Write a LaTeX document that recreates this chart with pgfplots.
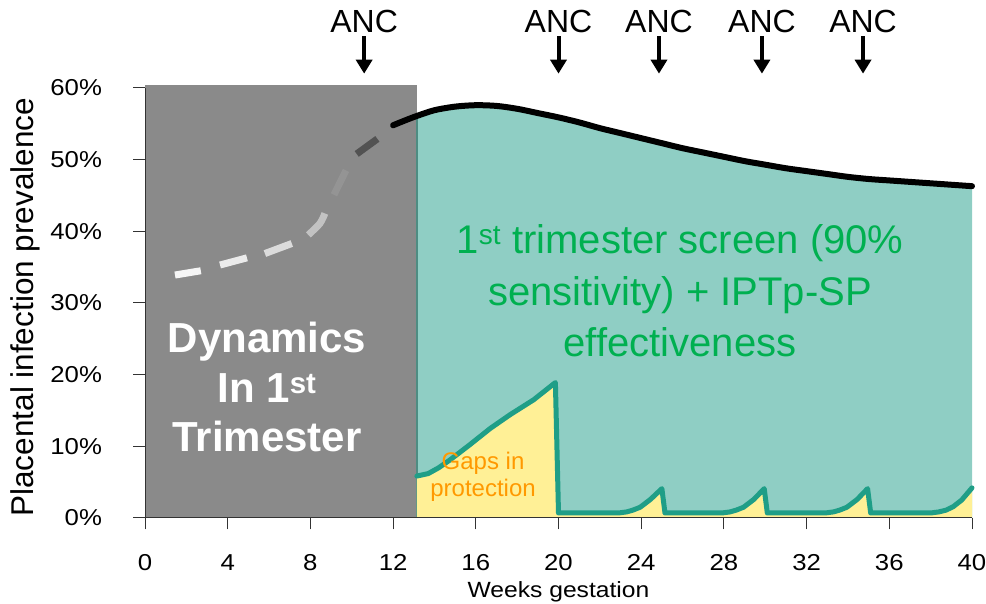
\documentclass[border=0pt]{standalone}
\usepackage{fontspec}
\setmainfont{Liberation Sans}
\usepackage{pgfplots}
\usepackage{pgfplotstable}
\pgfplotsset{compat=1.18}
\usetikzlibrary{arrows.meta}

\definecolor{greybox}{HTML}{8A8A8A}
\definecolor{tealfill}{HTML}{8FCEC4}
\definecolor{tealedge}{HTML}{4E8C82}
\definecolor{tealline}{HTML}{1F9E87}
\definecolor{gapyellow}{HTML}{FFF096}
\definecolor{textgreen}{HTML}{00B050}
\definecolor{gaporange}{HTML}{FF9900}

% prevalence without intervention (solid part, from week 12)
\pgfplotstableread{
wk   prev
12.0 54.8
12.6 55.5
13.15 56.1
14.0 56.9
15.0 57.4
16.0 57.6
17.0 57.5
18.0 57.1
19.0 56.5
20.0 55.9
21.0 55.2
22.0 54.4
23.0 53.7
24.0 53.0
25.0 52.3
26.0 51.6
27.0 51.0
28.0 50.4
29.0 49.8
30.0 49.3
31.0 48.8
32.0 48.4
33.0 48.0
34.0 47.6
35.0 47.3
36.0 47.1
37.0 46.9
38.0 46.7
39.0 46.5
40.0 46.3
}\untreated

% prevalence with screening + IPTp-SP
\pgfplotstableread{
wk    prev
13.15 5.85
13.7  6.2
14.2  7.0
14.75 8.1
15.7  10.2
16.7  12.5
17.65 14.4
18.8  16.5
19.85 18.9
20.0  0.7
22.9  0.7
23.3  0.85
23.6  1.1
23.95 1.5
24.45 2.6
25.0  4.1
25.15 0.7
27.9  0.7
28.3  0.85
28.6  1.1
28.95 1.5
29.45 2.6
29.95 4.1
30.1  0.7
32.9  0.7
33.3  0.85
33.6  1.1
33.95 1.5
34.45 2.6
34.95 4.1
35.1  0.7
38.0  0.7
38.4  0.85
38.75 1.1
39.1  1.6
39.5  2.5
40.0  4.2
}\treated

\begin{document}
\begin{tikzpicture}
\useasboundingbox (0,0) rectangle (986pt,604pt);
\begin{axis}[
  at={(145pt,86pt)}, anchor=south west,
  scale only axis, width=827pt, height=430pt,
  xmin=0, xmax=40, ymin=0, ymax=60,
  axis x line*=bottom, axis y line*=left,
  axis line style={draw=black!80, line width=1pt},
  tick style={draw=black!80, line width=1pt},
  tick align=outside, major tick length=11.5pt,
  xtick={0,4,...,40}, ytick={0,10,...,60},
  yticklabel={\pgfmathprintnumber{\tick}\%},
  /pgf/number format/assume math mode=true,
  ticklabel style={font=\fontsize{23}{27}\selectfont, xscale=1.12},
  xticklabel style={anchor=base, inner sep=0pt, yshift=-41pt},
  yticklabel style={anchor=east, inner sep=0pt, xshift=-28pt},
  xlabel={Weeks gestation},
  xlabel style={font=\fontsize{22}{26}\selectfont, xscale=1.12, at={(axis description cs:0.5,-0.184)}, anchor=base},
  ylabel={Placental infection prevalence},
  ylabel style={font=\fontsize{31.5}{36}\selectfont, at={(axis description cs:-0.1354,0.49)}, anchor=base},
  axis on top,
  clip=false,
]
% first trimester block
\addplot[fill=greybox, draw=none] coordinates {(0,60.4) (13.15,60.4)} \closedcycle;
% area under the untreated curve after the first trimester
\addplot[fill=tealfill, draw=none, restrict x to domain=13.15:40] table {\untreated} \closedcycle;
\addplot[tealedge, line width=2pt] coordinates {(13.15,0) (13.15,56.1)};
% gaps in protection
\addplot[fill=gapyellow, draw=none] table {\treated} \closedcycle;

% first-trimester dynamics, fading dashes
\addplot[color=white!96!black, line width=7pt, line cap=butt] coordinates {(1.45,33.9) (2.7,34.5)};
\addplot[color=white!92!black, line width=7pt, line cap=butt] coordinates {(3.63,35.3) (4.93,36.3)};
\addplot[color=white!86!black, line width=7pt, line cap=butt] coordinates {(5.8,36.9) (7.1,38.3)};
\addplot[color=white!76!black, line width=7pt, line cap=butt, smooth] coordinates {(7.9,39.5) (8.46,41.1) (8.7,42.5)};
\addplot[color=white!58!black, line width=7pt, line cap=butt] coordinates {(9.14,45.1) (9.72,48.5)};
\addplot[color=white!32!black, line width=7pt, line cap=butt] coordinates {(10.24,50.8) (11.24,52.9)};

% untreated curve
\addplot[black, line width=6pt, smooth, line cap=round] table {\untreated};
% treated curve
\addplot[tealline, line width=5pt, line join=round, line cap=round] table {\treated};

% antenatal care visits
\foreach \v in {10.6,20,24.86,29.84,34.73} {
  \edef\temp{\noexpand\node[font=\noexpand\fontsize{32}{38}\noexpand\selectfont, anchor=base] at (axis cs:\v,67.7) {ANC};
  \noexpand\draw[line width=4pt, -{Triangle[width=16pt,length=14pt]}] (axis cs:\v,67.2) -- (axis cs:\v,62.0);}
  \temp
}

% annotations
\node[font=\fontsize{42}{50}\selectfont\bfseries, text=white, anchor=base] at (axis cs:5.9,23.16) {Dynamics};
\node[font=\fontsize{42}{50}\selectfont\bfseries, text=white, anchor=base] at (axis cs:5.9,16.05) {In 1\textsuperscript{st}};
\node[font=\fontsize{42}{50}\selectfont\bfseries, text=white, anchor=base] at (axis cs:5.9,9.21) {Trimester};

\node[font=\fontsize{40}{48}\selectfont, text=textgreen, anchor=base] at (axis cs:25.88,36.84) {1\textsuperscript{st} trimester screen (90\%};
\node[font=\fontsize{40}{48}\selectfont, text=textgreen, anchor=base] at (axis cs:25.88,29.72) {sensitivity) + IPTp-SP};
\node[font=\fontsize{40}{48}\selectfont, text=textgreen, anchor=base] at (axis cs:25.88,22.47) {effectiveness};

\node[font=\fontsize{24}{29}\selectfont, text=gaporange, anchor=base] at (axis cs:16.35,6.70) {Gaps in};
\node[font=\fontsize{24}{29}\selectfont, text=gaporange, anchor=base] at (axis cs:16.35,2.93) {protection};
\end{axis}
\end{tikzpicture}
\end{document}
